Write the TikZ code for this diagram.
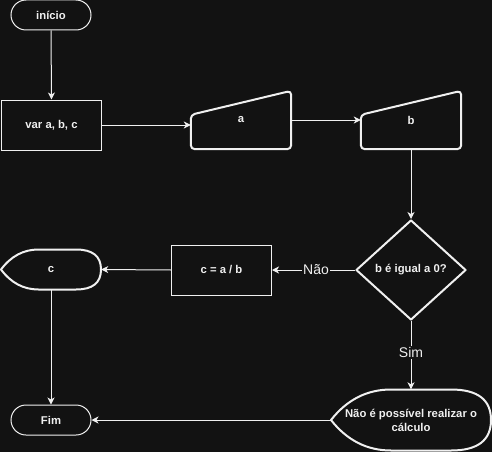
\documentclass[tikz,border=0pt]{standalone}
\usepackage{fontspec}
\setmainfont{Liberation Sans}
\usetikzlibrary{shapes.geometric,arrows.meta,calc}
\definecolor{bgc}{RGB}{18,18,18}
\definecolor{ink}{RGB}{240,240,240}

% display shape outline around a placeholder node: #1 node, #2 width, #3 height
\newcommand\displayoutline[3]{%
  \draw[heavy, shift={(#1.center)}]
    ({-#2/2},0) .. controls ({-#2/2+0.1*#2},{-#3/3}) and ({-#2/2+0.225*#2},{-#3/2}) .. ({-#2/2+0.375*#2},{-#3/2})
    -- ({#2/2-0.25*#2},{-#3/2}) .. controls ({#2/2-0.0833*#2},{-#3/2}) and ({#2/2},{-#3/3}) .. ({#2/2},0)
    .. controls ({#2/2},{#3/3}) and ({#2/2-0.0833*#2},{#3/2}) .. ({#2/2-0.25*#2},{#3/2})
    -- ({-#2/2+0.375*#2},{#3/2}) .. controls ({-#2/2+0.225*#2},{#3/2}) and ({-#2/2+0.1*#2},{#3/3}) .. ({-#2/2},0)
    -- cycle;}

% manual input outline around a placeholder node
\newcommand\manualoutline[1]{%
  \draw[heavy, rounded corners=4pt]
    (#1.south) -- (#1.south west) -- ($(#1.north west)+(0,24)$) -- (#1.north east)
    -- (#1.south east) -- cycle;}

\begin{document}
\begin{tikzpicture}[x=1pt,y=-1pt,
  every node/.style={text=ink, font=\fontsize{11.3}{14}\selectfont\bfseries},
  thinline/.style={draw=ink, line width=1pt},
  heavy/.style={draw=ink, line width=2pt, line join=round},
  term/.style={thinline, fill=bgc, rounded corners=15pt, minimum width=80pt, minimum height=30pt, inner sep=0pt},
  procbox/.style={thinline, fill=bgc, minimum width=100pt, minimum height=50pt, inner sep=0pt},
  holder/.style={minimum width=#1, inner sep=0pt},
  flow/.style={draw=ink, line width=1pt, -{Stealth[length=7pt,width=7pt,inset=2pt]}},
  elabel/.style={fill=bgc, inner sep=1pt, text=ink, font=\fontsize{14}{16}\selectfont}
]
\fill[bgc] (0,0) rectangle (492,452);
\useasboundingbox (0,0) rectangle (492,452);

% nodes
\node[term] (ini) at (51,15) {início};
\node[procbox] (var) at (51.5,125) {var a, b, c};
\node[holder=100pt, minimum height=58pt] (a) at (241,120) {a};
\manualoutline{a}
\node[holder=100pt, minimum height=58pt] (b) at (411,120) {b};
\manualoutline{b}
\node[diamond, heavy, minimum width=110pt, minimum height=100pt, inner sep=0pt] (dec) at (411,270) {b é igual a 0?};
\node[procbox] (calc) at (221.5,270) {c = a / b};
\node[holder=100pt, minimum height=40pt] (c) at (51,269.5) {c};
\displayoutline{c}{100}{40}
\node[holder=160pt, minimum height=61pt, align=center] (np) at (411,420) {Não é possível realizar o\\cálculo};
\displayoutline{np}{160}{61}
\node[term] (fim) at (51,420) {Fim};

% connectors
\draw[flow] (ini.south) -- (var.north);
\draw[flow] (var.east) -- (var.east -| a.west);
\draw[flow] (a.east) -- (b.west);
\draw[flow] (b.south) -- (dec.north);
\draw[flow] (dec.west) -- node[elabel, pos=0.47] {Não} (calc.east);
\draw[flow] (calc.west) -- (c.east);
\draw[flow] (c.south) -- (fim.north);
\draw[flow] (dec.south) -- node[elabel, pos=0.46] {Sim} (np.north);
\draw[flow] (np.west) -- (fim.east);
\end{tikzpicture}
\end{document}
